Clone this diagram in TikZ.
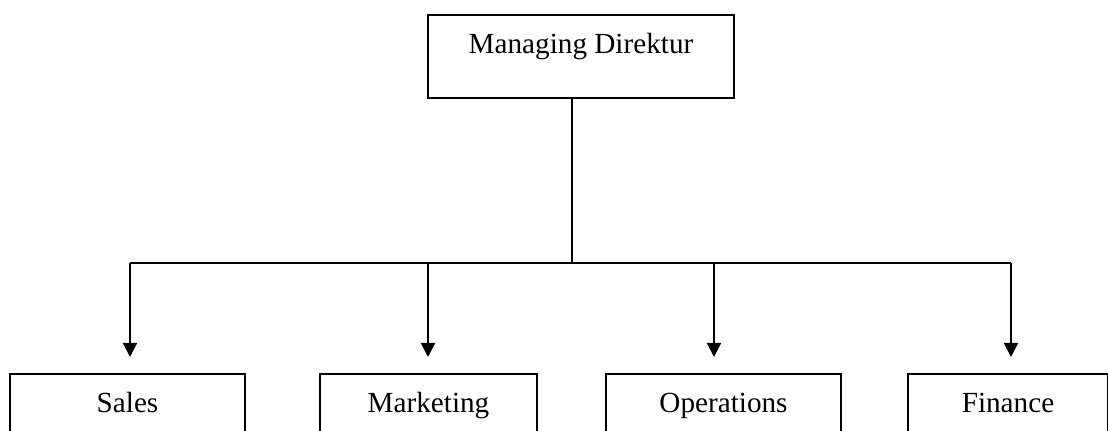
\documentclass[tikz,border=0pt]{standalone}
\usepackage{fontspec}
\setmainfont{Liberation Serif}
\usetikzlibrary{arrows.meta,calc}
\begin{document}
\begin{tikzpicture}[x=0.5pt,y=-0.5pt,
  box/.style={draw=black,line width=1pt,inner sep=0pt,anchor=north,
    font=\fontsize{14.6}{17}\selectfont,text height=19.3pt,text depth=22.2pt},
  link/.style={line width=1pt,draw=black},
  arr/.style={link,-{Triangle[length=7pt,width=7pt]}}]
\useasboundingbox (0,0) rectangle (1108,431);
\clip (0,0) rectangle (1108,431);
\node[box,minimum width=153pt] (md) at (581,14) {Managing Direktur};
\node[box,minimum width=117.5pt] (sales) at (127.5,373) {Sales};
\node[box,minimum width=108.5pt] (mkt) at (428.5,373) {Marketing};
\node[box,minimum width=117.5pt] (ops) at (723.5,373) {Operations};
\node[box,minimum width=100pt] (fin) at (1008,373) {Finance};
\coordinate (stem) at (572,263);
\coordinate (busL) at (130,263);
\coordinate (busR) at (1011,263);
\coordinate (tS) at (130,357);
\coordinate (tM) at (428,357);
\coordinate (tO) at (714,357);
\coordinate (tF) at (1011,357);
\draw[link] (md.south -| stem) -- (stem);
\draw[link] (busL) -- (busR);
\draw[arr] (busL) -- (tS);
\draw[arr] (tM |- stem) -- (tM);
\draw[arr] (tO |- stem) -- (tO);
\draw[arr] (busR) -- (tF);
\end{tikzpicture}
\end{document}
